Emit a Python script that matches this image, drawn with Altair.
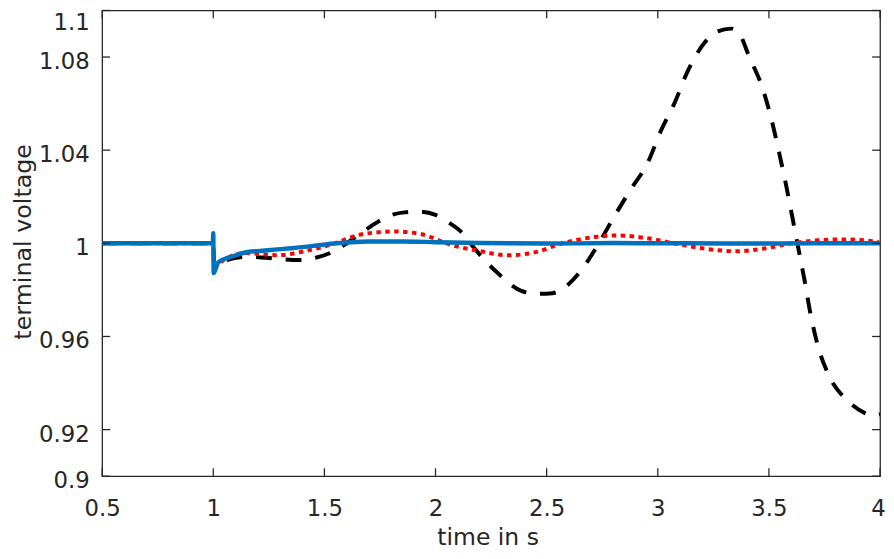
import altair as alt
import pandas as pd

# ---- data ----
black_t = [0.5, 1.0, 1.004, 1.05, 1.15, 1.237, 1.389, 1.46, 1.534, 1.6, 1.664, 1.72, 1.786,
           1.86, 1.928, 2.0, 2.062, 2.12, 2.17, 2.27, 2.386, 2.46, 2.526, 2.644, 2.731,
           2.80, 2.876, 2.957, 3.012, 3.077, 3.133, 3.211, 3.27, 3.329, 3.37, 3.41, 3.469,
           3.507, 3.548, 3.576, 3.604, 3.632, 3.66, 3.686, 3.719, 3.768, 3.86, 3.93, 3.97, 4.0]
black_v = [1.0, 1.0, 0.990, 0.9925, 0.9942, 0.9938, 0.9928, 0.9938, 0.9962, 1.0, 1.0043, 1.008, 1.0116,
           1.0133, 1.0136, 1.0122, 1.0088, 1.0045, 0.9984, 0.9881, 0.9796, 0.9783, 0.9786, 0.9871, 0.9994,
           1.0109, 1.0228, 1.0351, 1.0479, 1.0606, 1.0736, 1.0862, 1.0910, 1.0922, 1.0895, 1.0804, 1.0672,
           1.0549, 1.038, 1.0255, 1.0119, 0.9981, 0.9843, 0.9702, 0.9564, 0.9436, 0.9319, 0.9272, 0.9260, 0.9266]

red_t = [0.5, 1.0, 1.004, 1.05, 1.14, 1.289, 1.42, 1.542, 1.65, 1.75, 1.809, 1.928, 2.077,
         2.181, 2.328, 2.45, 2.567, 2.716, 2.82, 2.95, 3.10, 3.22, 3.355, 3.48, 3.607, 3.72, 3.845, 3.994]
red_v = [1.0, 1.0, 0.990, 0.993, 0.9958, 0.9949, 0.9968, 0.9998, 1.0035, 1.0048, 1.0051, 1.0041, 0.9991,
         0.9970, 0.9949, 0.9962, 0.9999, 1.0027, 1.0034, 1.0022, 0.9995, 0.9976, 0.9966, 0.9978, 1.0001, 1.0013, 1.0017, 1.0006]

blue_t = [0.5, 0.998, 1.0, 1.002, 1.022, 1.09, 1.155, 1.22, 1.289, 1.35, 1.45, 1.542, 1.62,
          1.7, 1.85, 2.0, 2.2, 2.5, 2.8, 3.1, 3.4, 3.7, 4.0]
blue_v = [1.0, 1.0, 1.0043, 0.9872, 0.9918, 0.9945, 0.9963, 0.9968, 0.9974, 0.9979, 0.9989, 0.9999, 1.0005,
          1.0008, 1.0008, 1.0005, 1.0001, 0.9999, 1.0001, 1.0, 0.9999, 1.0, 1.0]

x_ticks = [0.5, 1, 1.5, 2, 2.5, 3, 3.5, 4]
y_ticks = [0.9, 0.92, 0.96, 1, 1.04, 1.08, 1.1]

W, H = 785, 470
INK = "#262626"
FONT = "DejaVu Sans"

xscale = alt.Scale(domain=[0.5, 4], nice=False, zero=False)
yscale = alt.Scale(domain=[0.9, 1.1], nice=False, zero=False)

x_axis = alt.Axis(values=x_ticks, format="~g", grid=False, domain=False, ticks=False, tickSize=0,
                  labelFlush=False, labelOverlap=False, labelPadding=22, labelFontSize=23,
                  labelFont=FONT, labelColor=INK,
                  labelOffset=alt.condition("datum.value >= 3.99", alt.value(-2), alt.value(0)),
                  title="time in s", titleFont=FONT,
                  titleFontSize=23.7, titleFontWeight="normal", titleColor=INK,
                  titleX=389, titleY=69, titleBaseline="alphabetic", titleAlign="center")
y_axis = alt.Axis(values=y_ticks, format="~g", grid=False, domain=False, ticks=False, tickSize=0,
                  labelFlush=False, labelOverlap=False, labelPadding=13, labelFontSize=23,
                  labelFont=FONT, labelColor=INK,
                  labelOffset=alt.condition("datum.value >= 1.09", alt.value(12), alt.value(4.5)),
                  title="terminal voltage",
                  titleFont=FONT, titleFontSize=24, titleFontWeight="normal", titleColor=INK,
                  titleAngle=270, titleX=-72, titleY=233, titleBaseline="alphabetic",
                  titleAlign="center")


def X(field):
    return alt.X(f"{field}:Q", scale=xscale, axis=x_axis, title="time in s")


def Y(field):
    return alt.Y(f"{field}:Q", scale=yscale, axis=y_axis, title="terminal voltage")


black_df = pd.DataFrame({"t": black_t, "v": black_v})
red_df = pd.DataFrame({"t": red_t, "v": red_v})
blue_df = pd.DataFrame({"t": blue_t, "v": blue_v})
xt_df = pd.DataFrame({"xt": x_ticks})
yt_df = pd.DataFrame({"yt": y_ticks})

black = alt.Chart(black_df).mark_line(color="#000000", strokeWidth=4, strokeDash=[16, 14],
                                      interpolate="monotone", clip=True).encode(x=X("t"), y=Y("v"))
red = alt.Chart(red_df).mark_line(color="#FF0000", strokeWidth=4, strokeDash=[4.5, 4.5],
                                  interpolate="monotone", clip=True).encode(x=X("t"), y=Y("v"))
blue = alt.Chart(blue_df).mark_line(color="#0072BD", strokeWidth=4.5,
                                    interpolate="monotone", clip=True).encode(x=X("t"), y=Y("v"))

tick_len = 8
xt_bottom = alt.Chart(xt_df).mark_rule(color=INK, strokeWidth=1.3).encode(
    x=X("xt"), y=alt.value(H), y2=alt.value(H - tick_len))
xt_top = alt.Chart(xt_df).mark_rule(color=INK, strokeWidth=1.3).encode(
    x=X("xt"), y=alt.value(0), y2=alt.value(tick_len))
yt_left = alt.Chart(yt_df).mark_rule(color=INK, strokeWidth=1.3).encode(
    y=Y("yt"), x=alt.value(0), x2=alt.value(tick_len))
yt_right = alt.Chart(yt_df).mark_rule(color=INK, strokeWidth=1.3).encode(
    y=Y("yt"), x=alt.value(W), x2=alt.value(W - tick_len))

chart = alt.layer(black, red, blue, xt_bottom, xt_top, yt_left, yt_right).properties(
    width=W, height=H,
    autosize=alt.AutoSizeParams(type="none"),
    padding={"left": 95, "top": 0, "right": 6, "bottom": 72},
    background="white",
).configure_view(stroke=INK, strokeWidth=1.3)

chart.save("out.html", embed_options={"renderer": "svg", "actions": False})
